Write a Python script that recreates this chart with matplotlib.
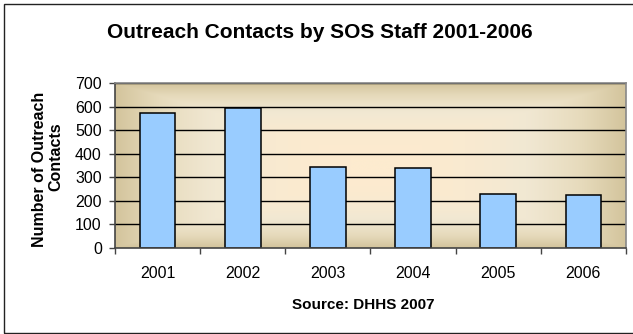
import numpy as np
import matplotlib
matplotlib.use("Agg")
import matplotlib.pyplot as plt
from matplotlib.colors import LinearSegmentedColormap
from matplotlib.patches import Rectangle

plt.rcParams['font.family'] = ['Liberation Sans', 'DejaVu Sans']

years = ["2001", "2002", "2003", "2004", "2005", "2006"]
contacts = [572, 593, 342, 338, 231, 225]
y_ticks = [0, 100, 200, 300, 400, 500, 600, 700]

W, H = 633, 334
fig = plt.figure(figsize=(W / 100, H / 100), dpi=100)
fig.patch.set_facecolor("white")

# outer chart frame
fig.patches.append(Rectangle((4 / W, 1 - 333 / H), 700 / W, 329 / H,
                             transform=fig.transFigure, fill=False,
                             edgecolor="#222222", linewidth=1.0))

ax = fig.add_axes([115 / W, 1 - 248 / H, 511 / W, 165 / H])

# plot-area gradient: warm cream centre fading to tan at the edges
gx = np.linspace(-1, 1, 400)
gy = np.linspace(-1, 1, 200)
X, Y = np.meshgrid(gx, gy)
d = np.clip(np.maximum(np.abs(X) ** 2.2, np.abs(Y) ** 2.5), 0, 1)
cmap = LinearSegmentedColormap.from_list(
    "fill", ["#fdebcf", "#f1e8d3", "#e6dabb", "#d3c49c"])
x = np.arange(len(years))
ax.imshow(d, cmap=cmap, extent=[-0.5, len(years) - 0.5, 0, 700],
          aspect="auto", zorder=0, interpolation="bilinear", vmin=0, vmax=1)

ax.set_xlim(-0.5, len(years) - 0.5)
ax.set_ylim(0, 700)

for t in y_ticks[1:]:
    ax.axhline(t, color="black", linewidth=1.0, zorder=1)

ax.bar(x, contacts, width=0.42, color="#99ccff", edgecolor="black",
       linewidth=1.1, zorder=2)

ax.set_yticks(y_ticks)
ax.set_yticklabels([str(t) for t in y_ticks], fontsize=11.5)
ax.set_xticks(np.arange(len(years) + 1) - 0.5)
ax.set_xticklabels([])
ax.set_xticks(x, minor=True)
ax.set_xticklabels(years, minor=True, fontsize=11.5)
ax.tick_params(axis="x", which="major", length=4.5, direction="out",
               color="#444444", width=1)
ax.tick_params(axis="x", which="minor", length=0, pad=13)
ax.tick_params(axis="y", length=4.5, direction="out", color="#444444",
               width=1, pad=5)

for side in ["left", "bottom"]:
    ax.spines[side].set_color("#444444")
    ax.spines[side].set_linewidth(1.2)
for side in ["top", "right"]:
    ax.spines[side].set_color("#888888")
    ax.spines[side].set_linewidth(1.2)

fig.text(363 / W, 1 - 309 / H, "Source: DHHS 2007", ha="center",
         va="baseline", fontsize=11, fontweight="bold")

fig.text(39.5 / W, 1 - 169 / H, "Number of Outreach", rotation=90,
         ha="center", va="center", fontsize=11.5, fontweight="bold")
fig.text(55.5 / W, 1 - 157 / H, "Contacts", rotation=90,
         ha="center", va="center", fontsize=11.5, fontweight="bold")

fig.text(320 / W, 1 - 38.5 / H, "Outreach Contacts by SOS Staff 2001-2006",
         ha="center", va="baseline", fontsize=15, fontweight="bold")

fig.savefig("out.png", dpi=100)
